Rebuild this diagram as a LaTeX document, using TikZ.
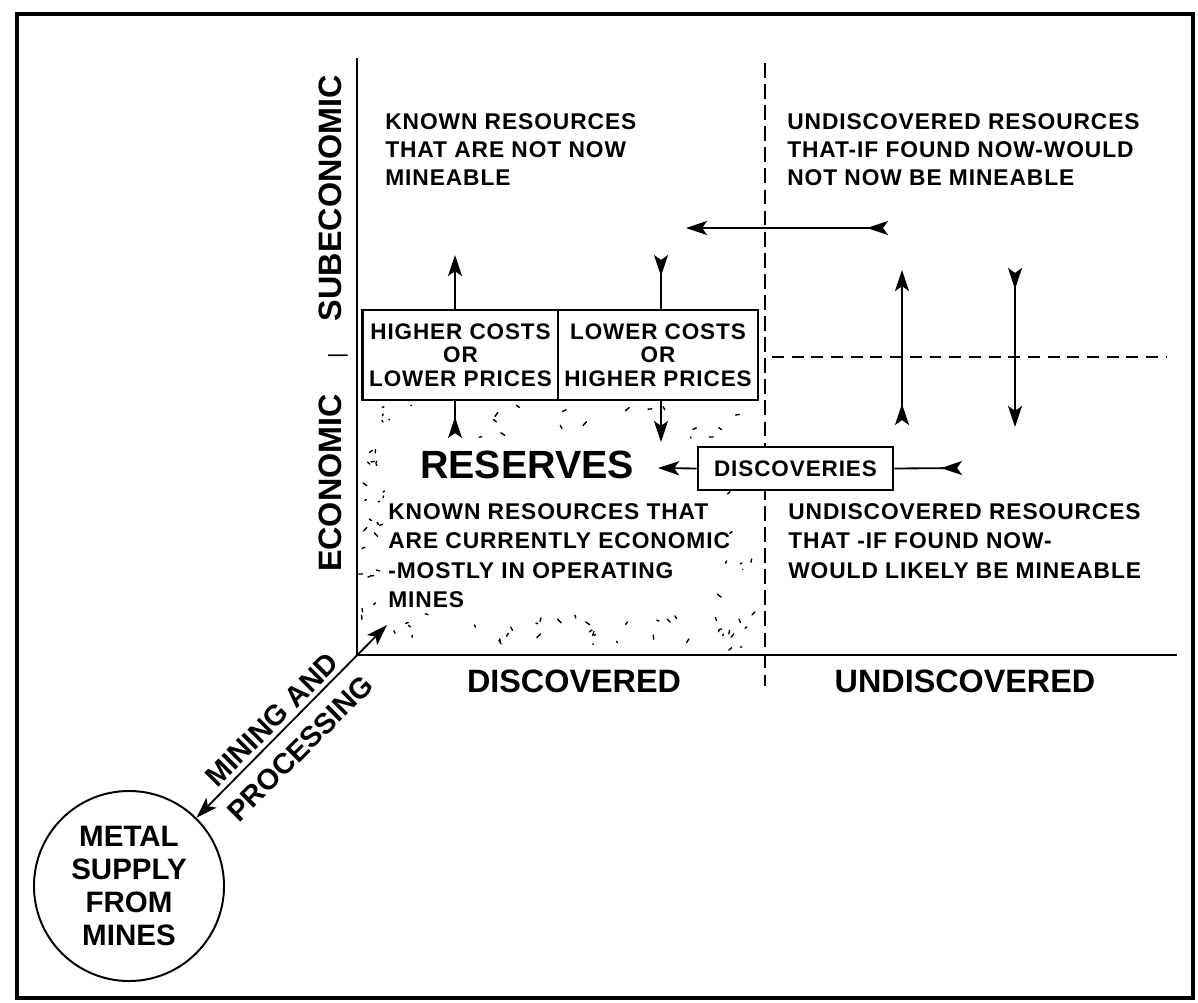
\documentclass[tikz,border=0pt]{standalone}
\usepackage{fontspec}
\setmainfont{Liberation Sans}
\newfontfamily\spacedfont[LetterSpace=4]{Liberation Sans}
\usetikzlibrary{arrows.meta}

\tikzset{
  para/.style={font=\spacedfont\bfseries\fontsize{16.2}{20}\selectfont, align=left, anchor=north west, inner sep=0pt},
  lowpara/.style={para, font=\spacedfont\bfseries\fontsize{16.2}{21}\selectfont},
  costbox/.style={draw, fill=white, line width=1.8pt, minimum height=2.25cm, inner sep=0pt, align=center,
    font=\spacedfont\bfseries\fontsize{16}{16.7}\selectfont},
  axislabel/.style={font=\bfseries\fontsize{23}{26}\selectfont, inner sep=0pt},
  axis/.style={line width=2pt},
  divider/.style={line width=1.5pt, dash pattern=on 10.5pt off 4.5pt},
  flow/.style={line width=1.3pt, -{Stealth[length=15pt,width=10pt,inset=3.5pt]}},
  twin/.style={line width=1.3pt, {Stealth[length=15pt,width=10pt,inset=3.5pt,reversed]}-{Stealth[length=15pt,width=10pt,inset=3.5pt]}},
  backtip/.style={line width=1.3pt, {Stealth[length=15pt,width=10pt,inset=3.5pt,reversed]}-},
  speck/.style={line width=1pt, line cap=round}
}

\begin{document}
\begin{tikzpicture}[x=0.025cm, y=-0.025cm]
    \useasboundingbox (0,0) rectangle (1198,1002);
    \draw[line width=2.2pt] (17,14) rectangle (1193,998);

    % Stipple of the reserves field
    \pgfmathsetseed{11}
    \foreach \n in {1,...,28} {
      \pgfmathsetmacro{\sx}{362+24*rnd}
      \pgfmathsetmacro{\sy}{405+245*rnd}
      \draw[speck] (\sx,\sy) -- ++(4*rand,4*rand);
    }
    \foreach \n in {1,...,32} {
      \pgfmathsetmacro{\sx}{390+360*rnd}
      \pgfmathsetmacro{\sy}{614+36*rnd}
      \draw[speck] (\sx,\sy) -- ++(4*rand,4*rand);
    }
    \foreach \n in {1,...,18} {
      \pgfmathsetmacro{\sx}{375+370*rnd}
      \pgfmathsetmacro{\sy}{405+33*rnd}
      \draw[speck] (\sx,\sy) -- ++(4*rand,4*rand);
    }
    \foreach \n in {1,...,16} {
      \pgfmathsetmacro{\sx}{715+40*rnd}
      \pgfmathsetmacro{\sy}{480+170*rnd}
      \draw[speck] (\sx,\sy) -- ++(4*rand,4*rand);
    }

    % Axes and dividers
    \coordinate (origin) at (357,655);
    \draw[axis] (357,58) -- (origin) -- (1177,655);
    \draw[divider] (765,63) -- (765,686);
    \draw[divider, dash pattern=on 8.5pt off 5.5pt] (772,357) -- (1167,357);

    % Axis labels
    \node[axislabel, rotate=90] (subecon) at (330,198) {SUBECONOMIC};
    \node[axislabel, rotate=90, font=\fontsize{15}{15}\selectfont] (econbar) at (338,356) {|};
    \node[axislabel, rotate=90] (econ) at (330,483) {ECONOMIC};
    \node[axislabel] (discovered) at (574,681) {DISCOVERED};
    \node[axislabel] (undiscovered) at (965,681) {UNDISCOVERED};

    % Quadrant texts
    \node[para] (tlpara) at (385,113) {KNOWN RESOURCES\\THAT ARE NOT NOW\\MINEABLE};
    \node[para] (trpara) at (787,113) {UNDISCOVERED RESOURCES\\THAT-IF FOUND NOW-WOULD\\NOT NOW BE MINEABLE};
    \node[lowpara] (blpara) at (388,503) {KNOWN RESOURCES THAT\\ARE CURRENTLY ECONOMIC\\-MOSTLY IN OPERATING\\MINES};
    \node[lowpara] (brpara) at (788,503) {UNDISCOVERED RESOURCES\\THAT -IF FOUND NOW-\\WOULD LIKELY BE MINEABLE};
    \node[font=\bfseries\fontsize{28}{30}\selectfont, inner sep=0pt] (reserves) at (527,465) {RESERVES};

    % Cost boxes
    \node[costbox, minimum width=4.9cm] (highbox) at (460.5,355) {HIGHER COSTS\\OR\\LOWER PRICES};
    \node[costbox, minimum width=5cm] (lowbox) at (658,355) {LOWER COSTS\\OR\\HIGHER PRICES};
    \node[costbox, minimum width=4.875cm, minimum height=1.075cm] (discoveries) at (795.5,468.5) {DISCOVERIES};

    % Arrows through the boxes
    \coordinate (upA) at (455,255);
    \coordinate (upB) at (455,438);
    \coordinate (downA) at (661,255);
    \coordinate (downB) at (661,442);
    \draw[flow] (highbox.north -| upA) -- (upA);
    \draw[backtip] (upB) -- (highbox.south -| upB);
    \draw[backtip] (downA) -- (lowbox.north -| downA);
    \draw[flow] (lowbox.south -| downB) -- (downB);

    % Arrows from the undiscovered side
    \coordinate (leftR) at (888,228);
    \coordinate (leftL) at (686,228);
    \draw[twin] (leftR) -- (leftL);
    \coordinate (riseB) at (902,425);
    \coordinate (riseT) at (902,270);
    \draw[twin] (riseB) -- (riseT);
    \coordinate (fallT) at (1015,268);
    \coordinate (fallB) at (1015,427);
    \draw[twin] (fallT) -- (fallB);
    \coordinate (findR) at (962,468);
    \draw[backtip] (findR) -- (discoveries.east);
    \draw[flow] (discoveries.west) -- (658,468);

    % Metal supply
    \node[draw, circle, line width=1.4pt, minimum size=4.75cm, inner sep=0pt, align=center,
      font=\bfseries\fontsize{21}{23.5}\selectfont] (metal) at (129,886) {METAL\\SUPPLY\\FROM\\MINES};
    \coordinate (minetip) at (387,625);
    \draw[line width=1.3pt, {Stealth[length=15pt,width=10pt,inset=3.5pt]}-{Stealth[length=15pt,width=10pt,inset=3.5pt]}] (minetip) -- (metal);
    \node[rotate=45, align=center, font=\bfseries\fontsize{20.5}{28.5}\selectfont, inner sep=0pt] (mining) at (286,734) {MINING AND\\PROCESSING};
\end{tikzpicture}
\end{document}
